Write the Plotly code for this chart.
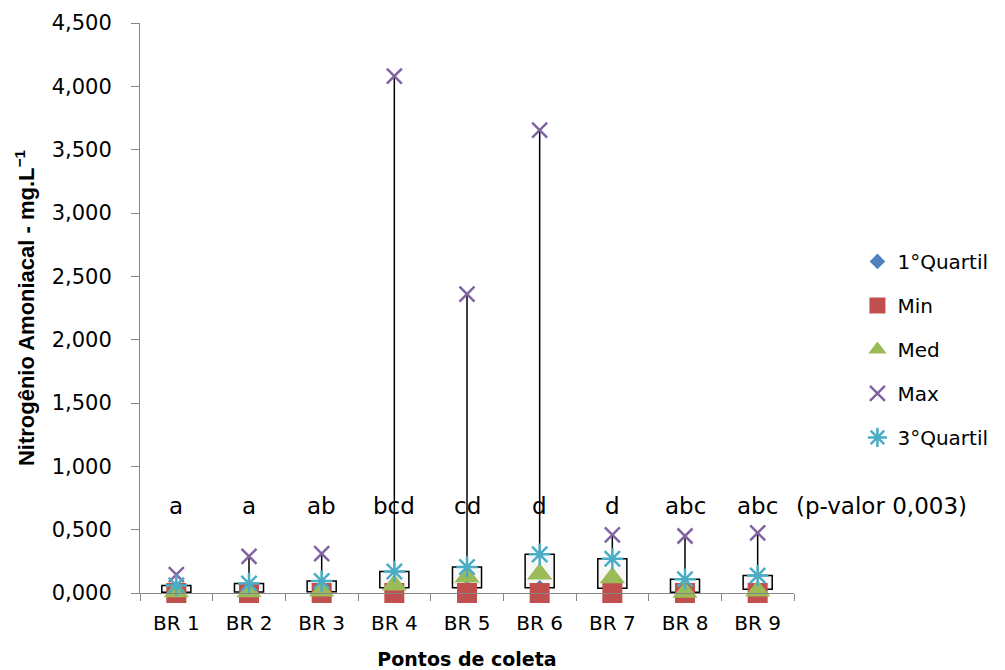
import plotly.graph_objects as go

categories = ["BR 1", "BR 2", "BR 3", "BR 4", "BR 5", "BR 6", "BR 7", "BR 8", "BR 9"]
q1_vals  = [0.005, 0.008, 0.010, 0.042, 0.042, 0.042, 0.037, 0.005, 0.029]
min_vals = [0.000, 0.000, 0.000, 0.000, 0.000, 0.000, 0.000, 0.000, 0.000]
med_vals = [0.010, 0.010, 0.015, 0.063, 0.126, 0.150, 0.120, 0.005, 0.016]
max_vals = [0.145, 0.290, 0.310, 4.080, 2.360, 3.655, 0.458, 0.450, 0.475]
q3_vals  = [0.060, 0.075, 0.095, 0.170, 0.205, 0.305, 0.270, 0.108, 0.138]
sig_letters = ["a", "a", "ab", "bcd", "cd", "d", "d", "abc", "abc"]
p_text = "(p-valor 0,003)"
y_ticks = [0, 0.5, 1, 1.5, 2, 2.5, 3, 3.5, 4, 4.5]

FONT = "DejaVu Sans"
AX = "#868686"

fig = go.Figure()

# whiskers (outside the box)
wx, wy = [], []
for c, lo, q1, q3, hi in zip(categories, min_vals, q1_vals, q3_vals, max_vals):
    wx += [c, c, None, c, c, None]
    wy += [q3, hi, None, lo, q1, None]
fig.add_trace(go.Scatter(x=wx, y=wy, mode="lines", line=dict(color="black", width=1.5),
                         showlegend=False, hoverinfo="skip", cliponaxis=False))

# boxes Q1..Q3
fig.add_trace(go.Bar(x=categories, y=[b - a for a, b in zip(q1_vals, q3_vals)], base=q1_vals,
                     width=0.4, marker=dict(color="#F7F7F7", line=dict(color="black", width=1.5)),
                     showlegend=False, hoverinfo="skip"))

series = [
    ("1°Quartil", q1_vals, dict(symbol="diamond", size=12, color="#4F81BD")),
    ("Min", min_vals, dict(symbol="square", size=20, color="#C0504D")),
    ("Med", med_vals, dict(symbol="triangle-up", size=22, color="#9BBB59")),
    ("Max", max_vals, dict(symbol="x-thin", size=15, color="#8064A2",
                           line=dict(color="#8064A2", width=2.5))),
    ("3°Quartil", q3_vals, dict(symbol="asterisk", size=18, color="#4BACC6",
                                line=dict(color="#4BACC6", width=2.5))),
]
for name, vals, mk in series:
    fig.add_trace(go.Scatter(x=categories, y=vals, mode="markers", name=name, marker=mk,
                             cliponaxis=False, legendgroup=name))

for c, t in zip(categories, sig_letters):
    fig.add_annotation(x=c, y=0.685, text=t, showarrow=False, xanchor="center", yanchor="middle",
                       font=dict(family=FONT, size=23, color="black"))
fig.add_annotation(xref="paper", x=1.0, y=0.685, text=p_text, showarrow=False, xanchor="left",
                   yanchor="middle", font=dict(family=FONT, size=23, color="black"))

fig.update_layout(
    width=1005, height=670,
    margin=dict(l=140, r=208, t=23, b=77),
    plot_bgcolor="white", paper_bgcolor="white",
    separators=",.",
    bargap=0.6,
    showlegend=True,
    legend=dict(x=1.097, xanchor="left", y=0.616, yanchor="top", tracegroupgap=15,
                font=dict(family=FONT, size=20, color="black"), bgcolor="rgba(0,0,0,0)"),
    xaxis=dict(type="category", range=[-0.5, 8.5], showline=True, linecolor=AX, linewidth=1,
               automargin=False,
               ticks="outside", tickson="boundaries", ticklen=7, tickcolor=AX,
               tickfont=dict(family=FONT, size=20, color="black"), showgrid=False,
               ticklabelstandoff=12,
               title=dict(text="<b>Pontos de coleta</b>", standoff=18,
                          font=dict(family=FONT, size=19, color="black"))),
    yaxis=dict(range=[0, 4.5], tickvals=y_ticks, tickformat=".3f", showline=True, linecolor=AX,
               linewidth=1, ticks="outside", ticklen=8, tickcolor=AX, showgrid=False,
               automargin=False,
               zeroline=False, ticklabelstandoff=15,
               tickfont=dict(family=FONT, size=21, color="black"),
               title=dict(text="<b>Nitrogênio Amoniacal - mg.L<sup>−1</sup></b>", standoff=10,
                          font=dict(family="Liberation Sans Narrow, Liberation Sans", size=22,
                                    color="black"))),
)

fig.write_html("out.html")
